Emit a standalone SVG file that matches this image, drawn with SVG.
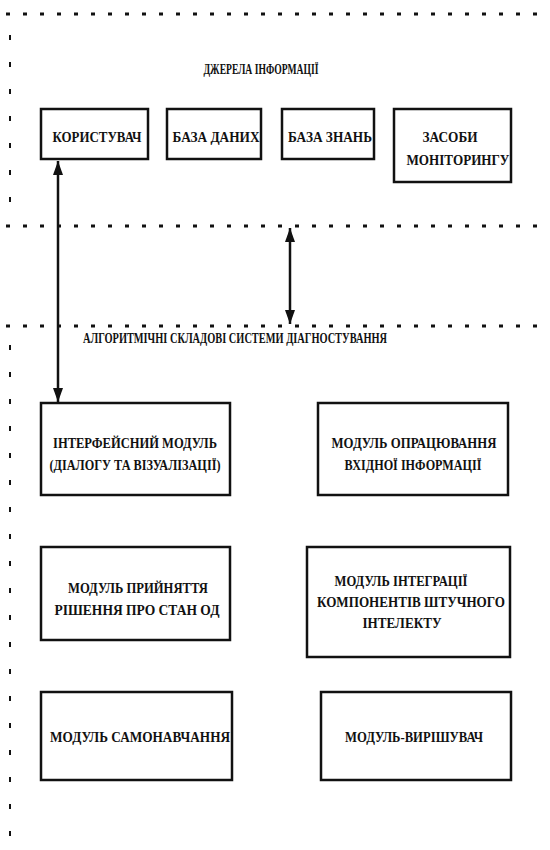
<svg xmlns="http://www.w3.org/2000/svg" width="550" height="850" viewBox="0 0 550 850">
<defs>
<style>
.box{fill:#fff;stroke:#111;stroke-width:2.5}
.t{font-family:"Liberation Serif","Times New Roman",serif;font-weight:bold;font-size:15px;fill:#111;text-anchor:middle}
.dot{stroke:#111;stroke-width:3;stroke-dasharray:4 13}
.vdash{stroke:#111;stroke-width:2;stroke-dasharray:5 22}
.conn{stroke:#111;stroke-width:2.5;fill:none}
</style>
<marker id="ah2" viewBox="0 0 14 10" refX="14" refY="5" markerWidth="14" markerHeight="10" markerUnits="userSpaceOnUse" orient="auto-start-reverse">
<path d="M0,0 L14,5 L0,10 Z" fill="#111"/>
</marker>
</defs>
<g id="frame">
<line class="dot" x1="6" y1="14" x2="550" y2="14"/>
<line class="dot" x1="6" y1="226" x2="550" y2="226"/>
<line class="dot" x1="6" y1="326" x2="550" y2="326"/>
<line class="vdash" x1="10" y1="35" x2="10" y2="210"/>
<line class="vdash" x1="10" y1="345" x2="10" y2="850"/>
</g>
<g id="title1"><text class="t" x="261" y="74" textLength="115" lengthAdjust="spacingAndGlyphs">ДЖЕРЕЛА ІНФОРМАЦІЇ</text></g>
<g id="title2"><text class="t" x="235" y="343" textLength="304" lengthAdjust="spacingAndGlyphs">АЛГОРИТМІЧНІ СКЛАДОВІ СИСТЕМИ ДІАГНОСТУВАННЯ</text></g>
<g id="user"><rect class="box" x="41" y="109" width="107" height="50"/><text class="t" x="97" y="142" textLength="89" lengthAdjust="spacingAndGlyphs">КОРИСТУВАЧ</text></g>
<g id="db"><rect class="box" x="167" y="109" width="94" height="50"/><text class="t" x="216" y="142" textLength="87" lengthAdjust="spacingAndGlyphs">БАЗА ДАНИХ</text></g>
<g id="kb"><rect class="box" x="282" y="109" width="92" height="50"/><text class="t" x="330" y="142" textLength="84" lengthAdjust="spacingAndGlyphs">БАЗА ЗНАНЬ</text></g>
<g id="monitor"><rect class="box" x="394" y="109" width="117" height="73"/><text class="t" x="450" y="142" textLength="55" lengthAdjust="spacingAndGlyphs">ЗАСОБИ</text><text class="t" x="458" y="165" textLength="103" lengthAdjust="spacingAndGlyphs">МОНІТОРИНГУ</text></g>
<g id="interface"><rect class="box" x="41" y="403" width="189" height="92"/><text class="t" x="135" y="448" textLength="164" lengthAdjust="spacingAndGlyphs">ІНТЕРФЕЙСНИЙ МОДУЛЬ</text><text class="t" x="135" y="470" textLength="171" lengthAdjust="spacingAndGlyphs">(ДІАЛОГУ ТА ВІЗУАЛІЗАЦІЇ)</text></g>
<g id="input"><rect class="box" x="318" y="403" width="190" height="92"/><text class="t" x="414" y="448" textLength="165" lengthAdjust="spacingAndGlyphs">МОДУЛЬ ОПРАЦЮВАННЯ</text><text class="t" x="413" y="470" textLength="137" lengthAdjust="spacingAndGlyphs">ВХІДНОЇ ІНФОРМАЦІЇ</text></g>
<g id="decision"><rect class="box" x="41" y="547" width="189" height="93"/><text class="t" x="138" y="593" textLength="140" lengthAdjust="spacingAndGlyphs">МОДУЛЬ ПРИЙНЯТТЯ</text><text class="t" x="137" y="615" textLength="165" lengthAdjust="spacingAndGlyphs">РІШЕННЯ ПРО СТАН ОД</text></g>
<g id="integration"><rect class="box" x="307" y="547" width="203" height="110"/><text class="t" x="401" y="586" textLength="133" lengthAdjust="spacingAndGlyphs">МОДУЛЬ ІНТЕГРАЦІЇ</text><text class="t" x="411" y="607" textLength="188" lengthAdjust="spacingAndGlyphs">КОМПОНЕНТІВ ШТУЧНОГО</text><text class="t" x="402" y="628" textLength="79" lengthAdjust="spacingAndGlyphs">ІНТЕЛЕКТУ</text></g>
<g id="selflearn"><rect class="box" x="41" y="692" width="191" height="88"/><text class="t" x="140" y="742" textLength="180" lengthAdjust="spacingAndGlyphs">МОДУЛЬ САМОНАВЧАННЯ</text></g>
<g id="solver"><rect class="box" x="321" y="692" width="190" height="88"/><text class="t" x="414" y="742" textLength="138" lengthAdjust="spacingAndGlyphs">МОДУЛЬ-ВИРІШУВАЧ</text></g>
<g id="connectors">
<line class="conn" x1="58" y1="161" x2="58" y2="402" marker-start="url(#ah2)" marker-end="url(#ah2)"/>
<line class="conn" x1="290" y1="228" x2="290" y2="324" marker-start="url(#ah2)" marker-end="url(#ah2)"/>
</g>
</svg>
